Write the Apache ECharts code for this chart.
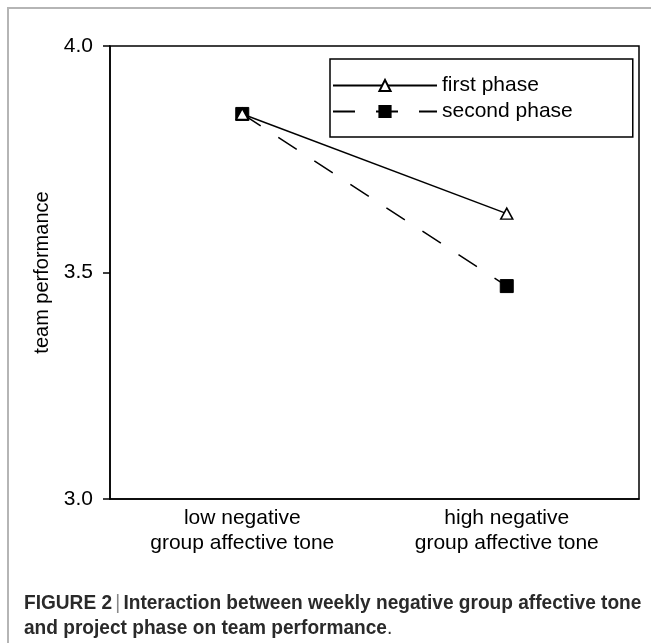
<!DOCTYPE html>
<html>
<head>
<meta charset="utf-8">
<script src="https://cdn.jsdelivr.net/npm/echarts@6/dist/echarts.min.js"></script>
<style>
  html, body { margin: 0; padding: 0; background: #fff; }
  #chart { width: 651px; height: 643px; }
</style>
</head>
<body>
<div id="chart"></div>
<script>
// categories on the x axis
var categories = ['low negative\ngroup affective tone', 'high negative\ngroup affective tone']
// team performance for each phase
var firstPhase = [3.85, 3.63]
var secondPhase = [3.85, 3.47]
var seriesNames = ['first phase', 'second phase']
var yTicks = [3.0, 3.5, 4.0]

var font = "'Liberation Sans', Arial, sans-serif"

var myChart = echarts.init(document.getElementById('chart'))
myChart.setOption({
  animation: false,
  backgroundColor: '#fff',
  grid: {
    left: 110,
    right: 12,
    top: 46,
    bottom: 144,
    show: true,
    borderColor: '#000',
    borderWidth: 1.5
  },
  legend: {
    data: seriesNames,
    orient: 'vertical',
    left: 330,
    top: 59,
    padding: [16, 60, 15, 2],
    itemGap: 5,
    itemWidth: 104,
    itemHeight: 14,
    borderColor: '#000',
    borderWidth: 1.5,
    textStyle: { fontFamily: font, fontSize: 21, color: '#000' }
  },
  xAxis: {
    type: 'category',
    data: categories,
    boundaryGap: true,
    axisLine: { lineStyle: { color: '#000', width: 1.5 } },
    axisTick: {
      length: 6,
      lineStyle: { color: '#000', width: 1.5 },
      interval: function (i) { return i === 1 }
    },
    axisLabel: {
      margin: 7,
      color: '#000',
      fontFamily: font,
      fontSize: 21,
      lineHeight: 25
    }
  },
  yAxis: {
    type: 'value',
    min: yTicks[0],
    max: yTicks[yTicks.length - 1],
    interval: 0.5,
    name: 'team performance',
    nameLocation: 'middle',
    nameGap: 58,
    nameTextStyle: { fontFamily: font, fontSize: 20, color: '#000' },
    splitLine: { show: false },
    axisLine: { show: true, lineStyle: { color: '#000', width: 1.5 } },
    axisTick: { show: true, length: 7, lineStyle: { color: '#000', width: 1.5 } },
    axisLabel: {
      margin: 17,
      color: '#000',
      fontFamily: font,
      fontSize: 21,
      formatter: function (v) { return v.toFixed(1) }
    }
  },
  series: [
    {
      name: seriesNames[0],
      type: 'line',
      data: firstPhase,
      z: 4,
      symbol: 'triangle',
      symbolSize: [12, 11],
      lineStyle: { color: '#000', width: 1.5 },
      itemStyle: { color: '#fff', borderColor: '#000', borderWidth: 1.5 }
    },
    {
      name: seriesNames[1],
      type: 'line',
      data: secondPhase,
      z: 3,
      symbol: 'rect',
      symbolSize: 13,
      lineStyle: { color: '#000', width: 1.5, type: [22, 21] },
      itemStyle: { color: '#000', borderColor: '#000', borderWidth: 1 }
    }
  ],
  graphic: [
    // outer figure frame (only top and left edges are visible)
    { type: 'line', shape: { x1: 7, y1: 8, x2: 651, y2: 8 }, style: { stroke: '#b5b5b5', lineWidth: 2 } },
    { type: 'line', shape: { x1: 8, y1: 7, x2: 8, y2: 643 }, style: { stroke: '#b5b5b5', lineWidth: 2 } },
    {
      // caption, squeezed a little to look like the condensed original
      type: 'text',
      x: 24,
      y: 591,
      scaleX: 0.955,
      style: {
        text: '{b|FIGURE 2} {s||} {b|Interaction between weekly negative group affective tone}\n{b|and project phase on team performance}{n|.}',
        rich: {
          b: { fontFamily: font, fontWeight: 'bold', fontSize: 20, fill: '#2a2a2a', lineHeight: 25 },
          s: { fontFamily: font, fontSize: 20, fill: '#888', lineHeight: 25 },
          n: { fontFamily: font, fontSize: 20, fill: '#2a2a2a', lineHeight: 25 }
        }
      }
    }
  ]
})
</script>
</body>
</html>
